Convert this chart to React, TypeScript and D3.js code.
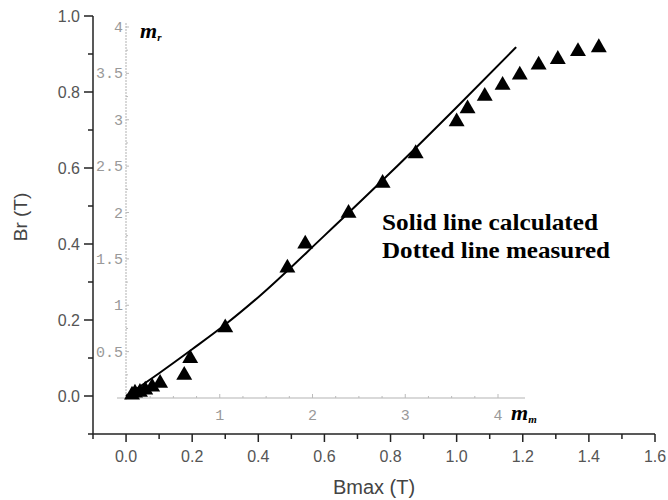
import React from "react";
import * as d3 from "d3";

// measured data (Bmax, Br)
const measBmax = [0.018, 0.027, 0.042, 0.058, 0.079, 0.103, 0.176, 0.194, 0.3, 0.488, 0.542, 0.673, 0.776, 0.876, 1.0, 1.033, 1.085, 1.139, 1.191, 1.248, 1.306, 1.367, 1.43];
const measBr = [0.003, 0.008, 0.01, 0.016, 0.024, 0.034, 0.055, 0.099, 0.18, 0.337, 0.4, 0.481, 0.56, 0.638, 0.722, 0.756, 0.789, 0.818, 0.845, 0.871, 0.886, 0.907, 0.917];
// calculated line
const calcBmax = [0.0, 0.1, 0.2, 0.3, 0.4, 0.6, 0.8, 1.0, 1.18];
const calcBr = [0.0, 0.06, 0.123, 0.188, 0.26, 0.422, 0.588, 0.76, 0.918];

const xTicks = [0.0, 0.2, 0.4, 0.6, 0.8, 1.0, 1.2, 1.4, 1.6];
const yTicks = [0.0, 0.2, 0.4, 0.6, 0.8, 1.0];
const innerXTicks = [1, 2, 3, 4];
const innerYTicks = [0.5, 1, 1.5, 2, 2.5, 3, 3.5, 4];
const noteLines = ["Solid line calculated", "Dotted line measured"];

export default function App() {
  const W = 668, H = 500;
  const x = d3.scaleLinear().domain([-0.1, 1.6]).range([93, 655]);
  const y = d3.scaleLinear().domain([-0.1, 1.0]).range([434, 16]);
  const ix = d3.scaleLinear().domain([0, 4]).range([127, 498]);
  const iy = d3.scaleLinear().domain([0, 4]).range([398, 27]);

  const minorX = d3.range(-0.1, 1.6001, 0.1).map((v) => +v.toFixed(2));
  const minorY = d3.range(-0.1, 1.0001, 0.1).map((v) => +v.toFixed(2));
  const innerMinorX = d3.range(0, 4.01, 0.25);
  const innerMinorY = d3.range(0, 4.01, 0.25);

  const line = d3
    .line<number>()
    .x((_, i) => x(calcBmax[i]))
    .y((d) => y(d))
    .curve(d3.curveMonotoneX);
  const tri = d3.symbol().type(d3.symbolTriangle).size(110)();

  const labelFont = "Liberation Sans, Arial, sans-serif";
  const innerGray = "#999";
  return (
    <svg width={W} height={H} style={{ position: "absolute", left: 0, top: 0 }}>
      <rect width={W} height={H} fill="#fff" />
      {/* inner axes */}
      <line x1={117} x2={525} y1={iy(0)} y2={iy(0)} stroke="#ccc" strokeWidth={1.5} />
      <line x1={ix(0) - 1} x2={ix(0) - 1} y1={iy(0) + 2} y2={iy(4) - 5} stroke="#ccc" strokeWidth={1.5} strokeDasharray="2,1" />
      {innerMinorX.map((t) => (
        <line key={"imx" + t} x1={ix(t)} x2={ix(t)} y1={iy(0)} y2={iy(0) - (Number.isInteger(t) ? 4 : 2)} stroke="#bbb" strokeWidth={1} />
      ))}
      {innerMinorY.map((t) => (
        <line key={"imy" + t} x1={ix(0) - 1} x2={ix(0) + (t % 0.5 === 0 ? 2 : 1)} y1={iy(t)} y2={iy(t)} stroke="#bbb" strokeWidth={1} />
      ))}
      {innerXTicks.map((t) => (
        <text key={"ixl" + t} x={ix(t)} y={iy(0) + 22} textAnchor="middle" fontFamily="Liberation Mono, monospace" fontSize={15} fill={innerGray}>
          {t}
        </text>
      ))}
      {innerYTicks.map((t) => (
        <text key={"iyl" + t} x={ix(0) - 4} y={iy(t) + 5} textAnchor="end" fontFamily="Liberation Mono, monospace" fontSize={15} fill={innerGray}>
          {t}
        </text>
      ))}
      <text x={140} y={38} fontFamily="Liberation Serif, serif" fontStyle="italic" fontWeight="bold" fontSize={22} fill="#000">
        m<tspan fontSize={11} dy={3}>r</tspan>
      </text>
      <text x={511} y={420} fontFamily="Liberation Serif, serif" fontStyle="italic" fontWeight="bold" fontSize={22} fill="#000">
        m<tspan fontSize={11} dy={3}>m</tspan>
      </text>

      {/* outer axes */}
      <line x1={x(-0.1)} x2={x(1.6)} y1={y(-0.1)} y2={y(-0.1)} stroke="#222" strokeWidth={1.5} />
      <line x1={x(-0.1)} x2={x(-0.1)} y1={y(-0.1)} y2={y(1.0)} stroke="#222" strokeWidth={1.5} />
      {minorX.map((t) => {
        const major = xTicks.some((m) => Math.abs(m - t) < 1e-6);
        return <line key={"mx" + t} x1={x(t)} x2={x(t)} y1={y(-0.1)} y2={y(-0.1) + (major ? 8 : 5)} stroke="#222" strokeWidth={1.5} />;
      })}
      {minorY.map((t) => {
        const major = yTicks.some((m) => Math.abs(m - t) < 1e-6);
        return <line key={"my" + t} x1={x(-0.1)} x2={x(-0.1) - (major ? 9 : 5)} y1={y(t)} y2={y(t)} stroke="#222" strokeWidth={1.5} />;
      })}
      {xTicks.map((t) => (
        <text key={"xl" + t} x={x(t)} y={y(-0.1) + 28} textAnchor="middle" fontFamily={labelFont} fontSize={16} fill="#555">
          {t.toFixed(1)}
        </text>
      ))}
      {yTicks.map((t) => (
        <text key={"yl" + t} x={80} y={y(t) + 6} textAnchor="end" fontFamily={labelFont} fontSize={16} fill="#555">
          {t.toFixed(1)}
        </text>
      ))}
      <text x={(x(-0.1) + x(1.6)) / 2} y={494} textAnchor="middle" fontFamily={labelFont} fontSize={20} fill="#444">
        Bmax (T)
      </text>
      <text transform={`translate(27,${(y(-0.1) + y(1.0)) / 2 - 8}) rotate(-90)`} textAnchor="middle" fontFamily={labelFont} fontSize={19} fill="#444">
        Br (T)
      </text>

      {/* calculated line */}
      <path d={line(calcBr) || ""} fill="none" stroke="#000" strokeWidth={2} />
      {/* measured */}
      {measBmax.map((b, i) => (
        <path key={"p" + i} d={tri || ""} transform={`translate(${x(b)},${y(measBr[i])})`} fill="#000" />
      ))}

      {noteLines.map((s, i) => (
        <text key={"n" + i} x={382} y={230 + i * 28} fontFamily="Liberation Serif, serif" fontWeight="bold" fontSize={23} fill="#000" textLength={i === 0 ? 216 : 228} lengthAdjust="spacingAndGlyphs">
          {s}
        </text>
      ))}
    </svg>
  );
}
